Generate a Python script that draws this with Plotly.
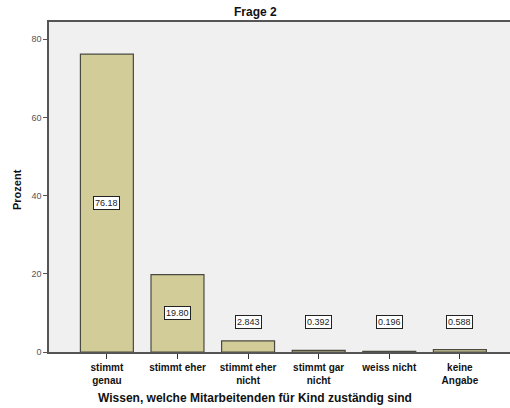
import plotly.graph_objects as go

categories = ["stimmt<br>genau", "stimmt eher", "stimmt eher<br>nicht", "stimmt gar<br>nicht", "weiss nicht", "keine<br>Angabe"]
values = [76.18, 19.80, 2.843, 0.392, 0.196, 0.588]
labels = ["76.18", "19.80", "2.843", "0.392", "0.196", "0.588"]

x = list(range(len(categories)))
fig = go.Figure()
fig.add_trace(go.Bar(
    x=x, y=values, width=0.75,
    marker=dict(color="#d2cd98", line=dict(color="#4a4a40", width=1.2)),
    hoverinfo="skip",
))

for i, (v, t) in enumerate(zip(values, labels)):
    fig.add_annotation(
        x=i, y=max(v / 2, 7.6), text=t, showarrow=False,
        font=dict(family="Liberation Sans, Arial", size=9, color="#222"),
        bgcolor="white", bordercolor="#222", borderwidth=1, borderpad=1,
    )

fig.add_annotation(
    xref="paper", yref="paper", x=(255 - 49) / 461, y=-46 / 330, xanchor="center", yanchor="middle",
    text="<b>Wissen, welche Mitarbeitenden für Kind zuständig sind</b>", showarrow=False,
    font=dict(family="Liberation Sans, Arial", size=12, color="#111"),
)
fig.add_annotation(
    xref="paper", yref="paper", x=-32 / 461, y=(352 - 190) / 330, xanchor="center", yanchor="middle",
    text="<b>Prozent</b>", textangle=-90, showarrow=False,
    font=dict(family="Liberation Sans, Arial", size=11, color="#111"),
)
fig.add_annotation(
    xref="paper", yref="paper", x=(255 - 49) / 461, y=1 + 10 / 330, xanchor="center", yanchor="middle",
    text="<b>Frage 2</b>", showarrow=False,
    font=dict(family="Liberation Sans, Arial", size=12, color="#111"),
)

fig.update_layout(
    width=510, height=408,
    margin=dict(l=49, r=0, t=22, b=56, autoexpand=False),
    paper_bgcolor="white", plot_bgcolor="#f0f0f0",
    showlegend=False,
    font=dict(family="Liberation Sans, Arial", color="#111"),
)
fig.update_xaxes(
    range=[-0.82, 5.71], tickmode="array", tickvals=x, ticktext=["<b>%s</b>" % c for c in categories],
    ticks="outside", ticklen=5, tickcolor="#333", showline=True, linecolor="#555", linewidth=1.5,
    mirror=True, showgrid=False, zeroline=False, automargin=False,
    tickfont=dict(size=10, color="#111"),
)
fig.update_yaxes(
    range=[0, 84.4], tickvals=[0, 20, 40, 60, 80], ticks="outside", ticklen=4, tickcolor="#555",
    showline=True, linecolor="#555", linewidth=1.5, mirror=False, showgrid=False, zeroline=False,
    automargin=False, tickfont=dict(size=9, color="#555"),
)

fig.write_html("out.html", config={"displayModeBar": False},
               post_script="document.body.style.margin='0';document.body.style.overflow='hidden';")
